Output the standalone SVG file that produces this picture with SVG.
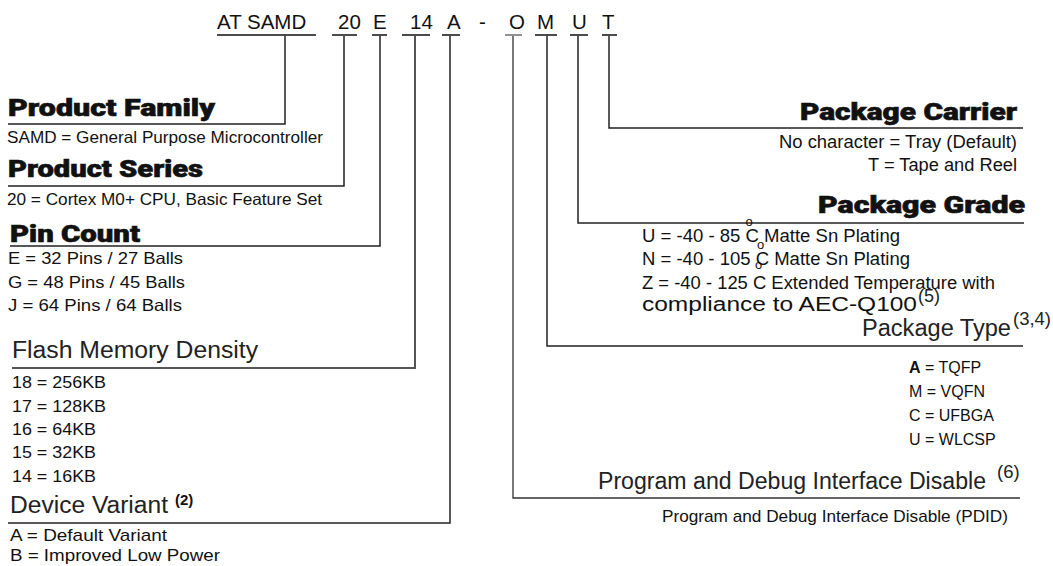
<svg xmlns="http://www.w3.org/2000/svg" width="1053" height="566" viewBox="0 0 1053 566">
<style>
.hdr{font-family:"Liberation Sans",Arial,sans-serif;font-size:20.5px;fill:#111}
.bh{font-family:Roboto,"Liberation Sans",sans-serif;font-weight:900;font-size:23px;fill:#111;stroke:#111;stroke-width:0.6}
.lh{font-family:"Liberation Sans",Arial,sans-serif;font-size:23.5px;fill:#222}
.t{font-family:"Liberation Sans",Arial,sans-serif;font-size:16px;fill:#111}
.tg{font-family:"Liberation Sans",Arial,sans-serif;font-size:17.5px;fill:#111}
.sup{font-family:"Liberation Sans",Arial,sans-serif;font-size:15px;fill:#222}
.deg{font-family:"Liberation Sans",Arial,sans-serif;font-size:13px;fill:#111}
.ul{stroke:#111;stroke-width:1.6;fill:none}
.ln{stroke:#222;stroke-width:1.5;fill:none}
</style>
<g id="part-number">
<text class="hdr" x="217" y="29">AT SAMD</text>
<text class="hdr" x="338" y="29">20</text>
<text class="hdr" x="373" y="29">E</text>
<text class="hdr" x="410" y="29">14</text>
<text class="hdr" x="447" y="29">A</text>
<text class="hdr" x="479" y="29">-</text>
<text class="hdr" x="509" y="29">O</text>
<text class="hdr" x="537" y="29">M</text>
<text class="hdr" x="572" y="29">U</text>
<text class="hdr" x="602" y="29">T</text>
<path class="ul" d="M217 35H316M332 35H357M372 35H387M402 35H430M442 35H460M535 35H557M570 35H588M602 35H617"/>
<path d="M505 35H522" stroke="#555" stroke-width="1.3"/>
</g>
<g id="connectors">
<polyline class="ln" points="285,36 285,124 8,124"/>
<polyline class="ln" points="344,36 344,186 8,186"/>
<polyline class="ln" points="380,36 380,246 10,246"/>
<polyline points="415,36 415,368 12,368" stroke="#555" stroke-width="2" fill="none"/>
<polyline class="ln" points="450,36 450,523 8,523"/>
<polyline points="513,36 513,498 1020,498" stroke="#333" stroke-width="1.3" fill="none"/>
<polyline class="ln" points="547,36 547,346 1023,346"/>
<polyline class="ln" points="578,36 578,223 1024,223"/>
<polyline class="ln" points="609,36 609,128 1023,128"/>
</g>
<g id="product-family">
<text class="bh" x="8" y="116" textLength="207" lengthAdjust="spacingAndGlyphs">Product Family</text>
<text class="t" x="7" y="143" style="font-size:16.5px" textLength="316" lengthAdjust="spacingAndGlyphs">SAMD = General Purpose Microcontroller</text>
</g>
<g id="product-series">
<text class="bh" x="8" y="177" textLength="195" lengthAdjust="spacingAndGlyphs">Product Series</text>
<text class="t" x="7" y="205" style="font-size:16.5px" textLength="315" lengthAdjust="spacingAndGlyphs">20 = Cortex M0+ CPU, Basic Feature Set</text>
</g>
<g id="pin-count">
<text class="bh" x="10" y="242" textLength="130" lengthAdjust="spacingAndGlyphs">Pin Count</text>
<text class="t" x="8" y="264" style="font-size:16.5px" textLength="175" lengthAdjust="spacingAndGlyphs">E = 32 Pins / 27 Balls</text>
<text class="t" x="8" y="288" style="font-size:16.5px" textLength="177" lengthAdjust="spacingAndGlyphs">G = 48 Pins / 45 Balls</text>
<text class="t" x="8" y="311" style="font-size:16.5px" textLength="174" lengthAdjust="spacingAndGlyphs">J = 64 Pins / 64 Balls</text>
</g>
<g id="flash-memory-density">
<text class="lh" x="12" y="358" textLength="246" lengthAdjust="spacingAndGlyphs">Flash Memory Density</text>
<text class="t" x="12" y="388" textLength="94" lengthAdjust="spacingAndGlyphs">18 = 256KB</text>
<text class="t" x="12" y="412" textLength="94" lengthAdjust="spacingAndGlyphs">17 = 128KB</text>
<text class="t" x="12" y="435" textLength="84" lengthAdjust="spacingAndGlyphs">16 = 64KB</text>
<text class="t" x="12" y="458" textLength="84" lengthAdjust="spacingAndGlyphs">15 = 32KB</text>
<text class="t" x="12" y="482" textLength="84" lengthAdjust="spacingAndGlyphs">14 = 16KB</text>
</g>
<g id="device-variant">
<text class="lh" x="10" y="513" textLength="158" lengthAdjust="spacingAndGlyphs">Device Variant</text>
<text class="sup" x="175" y="505" style="font-size:15px;font-weight:bold;fill:#111">(2)</text>
<text class="t" x="10" y="541" style="font-size:17px" textLength="157" lengthAdjust="spacingAndGlyphs">A = Default Variant</text>
<text class="t" x="10" y="561" style="font-size:17px" textLength="210" lengthAdjust="spacingAndGlyphs">B = Improved Low Power</text>
</g>
<g id="package-carrier">
<text class="bh" x="1017" y="120" text-anchor="end" textLength="217" lengthAdjust="spacingAndGlyphs">Package Carrier</text>
<text class="t" x="1017" y="148" style="font-size:17.5px" text-anchor="end" textLength="238" lengthAdjust="spacingAndGlyphs">No character = Tray (Default)</text>
<text class="t" x="1017" y="171" style="font-size:17.5px" text-anchor="end" textLength="149" lengthAdjust="spacingAndGlyphs">T = Tape and Reel</text>
</g>
<g id="package-grade">
<text class="bh" x="1025" y="213" text-anchor="end" textLength="207" lengthAdjust="spacingAndGlyphs">Package Grade</text>
<text class="tg" x="642" y="242" textLength="258" lengthAdjust="spacingAndGlyphs">U = -40 - 85 C Matte Sn Plating</text>
<text class="tg" x="642" y="265" textLength="268" lengthAdjust="spacingAndGlyphs">N = -40 - 105 C Matte Sn Plating</text>
<text class="tg" x="642" y="289" textLength="353" lengthAdjust="spacingAndGlyphs">Z = -40 - 125 C Extended Temperature with</text>
<text class="tg" x="642" y="311" style="font-size:19.5px" textLength="275" lengthAdjust="spacingAndGlyphs">compliance to AEC-Q100</text>
<text class="sup" x="918" y="302" style="font-size:18px">(5)</text>
<text class="deg" x="745.5" y="226">o</text>
<text class="deg" x="757" y="248.5">o</text>
<text class="deg" x="755" y="268.5">o</text>
</g>
<g id="package-type">
<text class="lh" x="862" y="336" style="font-size:23px" textLength="149" lengthAdjust="spacingAndGlyphs">Package Type</text>
<text class="sup" x="1013" y="325" style="font-size:17.5px" textLength="38" lengthAdjust="spacingAndGlyphs">(3,4)</text>
<text class="t" x="909" y="373"><tspan font-weight="bold">A</tspan> = TQFP</text>
<text class="t" x="909" y="397">M = VQFN</text>
<text class="t" x="909" y="421">C = UFBGA</text>
<text class="t" x="909" y="445">U = WLCSP</text>
</g>
<g id="program-debug-interface-disable">
<text class="lh" x="598" y="489" style="font-size:23px" textLength="388" lengthAdjust="spacingAndGlyphs">Program and Debug Interface Disable</text>
<text class="sup" x="997" y="478" style="font-size:18.5px">(6)</text>
<text class="t" x="1008" y="522" style="font-size:17px" text-anchor="end" textLength="346" lengthAdjust="spacingAndGlyphs">Program and Debug Interface Disable (PDID)</text>
</g>
</svg>
